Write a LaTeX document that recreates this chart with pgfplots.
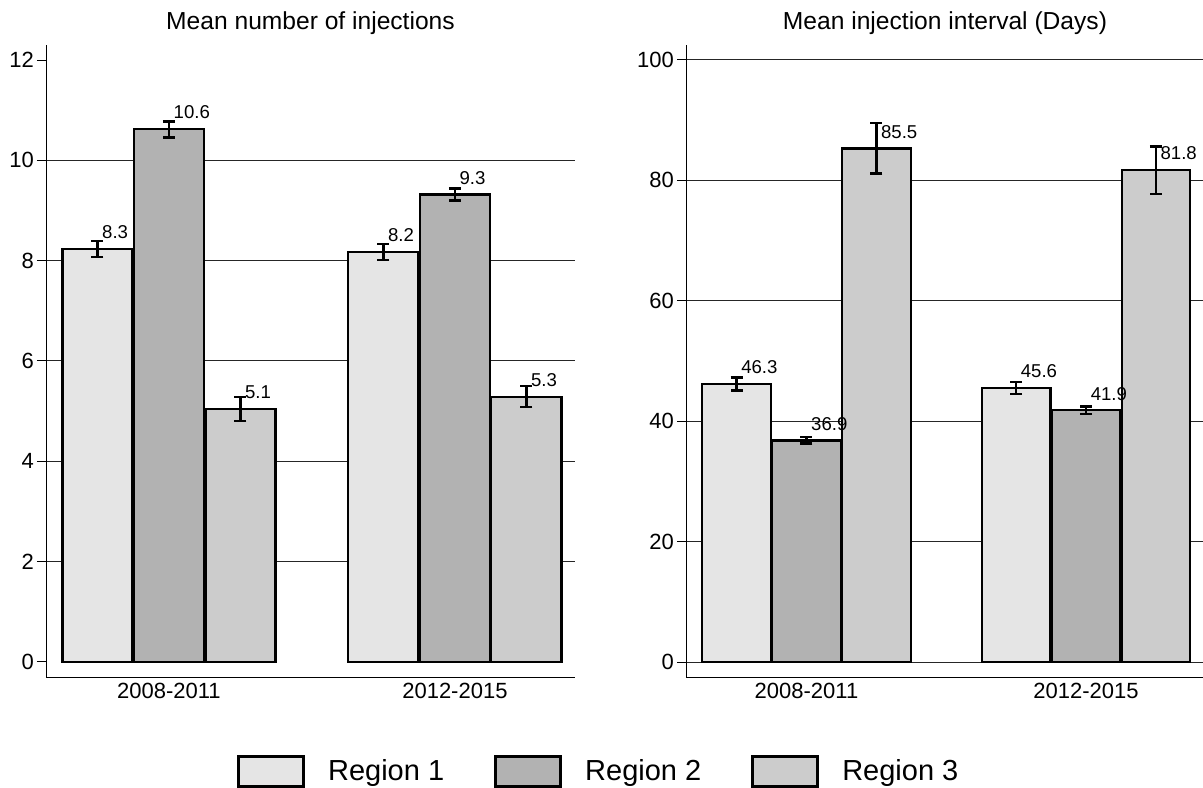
\documentclass[border=0pt]{standalone}
\usepackage{fontspec}
\setmainfont{Liberation Sans}
\usepackage{pgfplots}
\usepackage{pgfplotstable}
\pgfplotsset{compat=1.18}
\definecolor{rone}{HTML}{E5E5E5}
\definecolor{rtwo}{HTML}{B2B2B2}
\definecolor{rthree}{HTML}{CCCCCC}

\pgfplotstableread{
x y e lab
0 8.23 0.16 8.3
1 8.17 0.16 8.2
}\Lone
\pgfplotstableread{
x y e lab
0 10.62 0.16 10.6
1 9.32 0.12 9.3
}\Ltwo
\pgfplotstableread{
x y e lab
0 5.04 0.24 5.1
1 5.29 0.21 5.3
}\Lthree
\pgfplotstableread{
x y e lab
0 46.2 1.1 46.3
1 45.5 1.0 45.6
}\Rone
\pgfplotstableread{
x y e lab
0 36.8 0.55 36.9
1 41.8 0.6 41.9
}\Rtwo
\pgfplotstableread{
x y e lab
0 85.3 4.2 85.5
1 81.7 3.95 81.8
}\Rthree

\pgfplotsset{
 mybase/.style={
  scale only axis,
  axis x line*=bottom, axis y line*=left,
  axis line style={black, line width=0.5pt, -},
  xmin=-0.43, xmax=1.42,
  xtick={0,1}, xticklabels={2008-2011,2012-2015},
  x tick style={draw=none},
  y tick style={black, line width=0.5pt},
  tick align=outside, major tick length=4.5pt,
  ymajorgrids, grid style={black!85, line width=0.5pt},
  ybar, bar width=0.245,
  /pgf/number format/assume math mode=true,
  xticklabel style={font=\fontsize{11}{13}\selectfont, yshift=5pt},
  yticklabel style={font=\fontsize{11}{13}\selectfont, xshift=2pt},
  title style={font=\fontsize{12.3}{14}\selectfont, at={(0.5,1)}, anchor=base, yshift=1.5pt},
  nodes near coords, point meta=explicit symbolic,
  nodes near coords style={anchor=south west, inner sep=0pt, xshift=1.8pt, yshift=4.5pt, font=\fontsize{9.3}{11}\selectfont, text=black},
  error bars/y dir=both, error bars/y explicit,
  error bars/error bar style={line width=1.3pt, black},
  error bars/error mark options={rotate=90, mark size=3pt, line width=1.3pt, black},
 }
}

\begin{document}
\begin{tikzpicture}
\useasboundingbox (0,0) rectangle (601.5pt,393.5pt);
\begin{axis}[mybase,
  at={(23pt,55pt)}, anchor=south west,
  width=264.5pt, height=316pt,
  ymin=-0.3, ymax=12.3,
  ytick={2,4,6,8,10},
  extra y ticks={0,12}, extra y tick style={grid=none},
  title={Mean number of injections},
  legend style={at={(1.043,-0.149)}, anchor=center, draw=none, fill=none,
    legend columns=3, font=\fontsize{14.5}{16}\selectfont,
    nodes={inner sep=0pt},
    /tikz/every odd column/.append style={column sep=11.5pt},
    /tikz/every even column/.append style={column sep=25pt}},
]
\addplot[fill=rone, draw=black, line width=1.1pt, bar shift=-0.25, forget plot] table[x=x, y=y, y error=e, meta=lab] {\Lone};
\addplot[fill=rtwo, draw=black, line width=1.1pt, bar shift=0, forget plot] table[x=x, y=y, y error=e, meta=lab] {\Ltwo};
\addplot[fill=rthree, draw=black, line width=1.1pt, bar shift=0.25, forget plot] table[x=x, y=y, y error=e, meta=lab] {\Lthree};
\addlegendimage{legend image code/.code={\draw[fill=rone, draw=black, line width=1.5pt] (0pt,-7.5pt) rectangle (32.5pt,7.5pt);}}
\addlegendentry{Region 1}
\addlegendimage{legend image code/.code={\draw[fill=rtwo, draw=black, line width=1.5pt] (0pt,-7.5pt) rectangle (32.5pt,7.5pt);}}
\addlegendentry{Region 2}
\addlegendimage{legend image code/.code={\draw[fill=rthree, draw=black, line width=1.5pt] (0pt,-7.5pt) rectangle (32.5pt,7.5pt);}}
\addlegendentry{Region 3}
\end{axis}
\begin{axis}[mybase,
  at={(343pt,55pt)}, anchor=south west,
  width=259pt, height=316pt,
  xmin=-0.431, xmax=1.422,
  ymin=-2.49, ymax=102.49,
  ytick={0,20,40,60,80,100},
  title={Mean injection interval (Days)},
]
\addplot[fill=rone, draw=black, line width=1.1pt, bar shift=-0.25] table[x=x, y=y, y error=e, meta=lab] {\Rone};
\addplot[fill=rtwo, draw=black, line width=1.1pt, bar shift=0] table[x=x, y=y, y error=e, meta=lab] {\Rtwo};
\addplot[fill=rthree, draw=black, line width=1.1pt, bar shift=0.25] table[x=x, y=y, y error=e, meta=lab] {\Rthree};
\end{axis}
\end{tikzpicture}
\end{document}
